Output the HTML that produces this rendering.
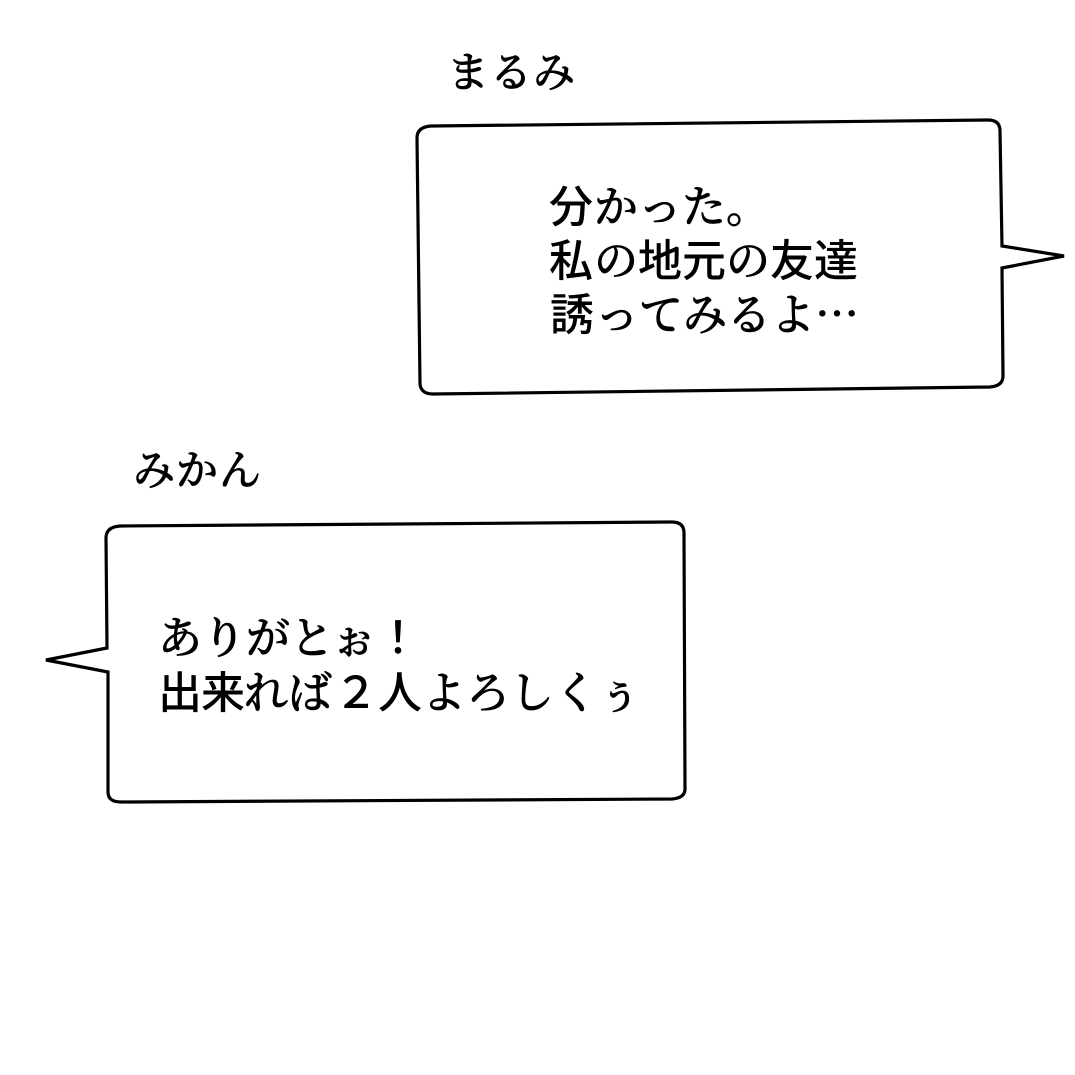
<!DOCTYPE html>
<html lang="ja">
<head>
<meta charset="utf-8">
<style>
html,body{margin:0;padding:0;background:#fff;}
body{width:1075px;height:1075px;overflow:hidden;position:relative;}
svg{position:absolute;left:0;top:0;}
text{font-family:"Noto Serif CJK JP","Noto Serif CJK SC",serif;fill:#000;stroke:#000;stroke-width:.7px;font-weight:500;}
.k{font-family:"Noto Sans CJK JP",sans-serif;stroke:none;font-weight:500;}
</style>
</head>
<body>
<svg width="1075" height="1075" viewBox="0 0 1075 1075" xmlns="http://www.w3.org/2000/svg">
<rect width="1075" height="1075" fill="#fff"/>
<path d="M431 126 L988 120 Q1000 120 1000 131 L1002 246 L1064 256 L1002 268 L1003 376 Q1003 386 990 387 L433 394 Q421 394 420 384 L417 138 Q417 127 431 126 Z" fill="#fff" stroke="#000" stroke-width="3.2" stroke-linejoin="miter"/>
<path d="M120 526 L672 522 Q684 522 684 533 L685 789 Q685 798 672 799 L121 802 Q108 802 108 792 L108 672 L46 660 L107 648 L106 538 Q106 527 120 526 Z" fill="#fff" stroke="#000" stroke-width="3.2" stroke-linejoin="miter"/>
<text x="447 490 533" y="87" font-size="42">まるみ</text>
<text x="133 176 219" y="485" font-size="42">みかん</text>
<text x="549 594 638 682 726" y="222" font-size="44"><tspan class="k">分</tspan>かった。</text>
<text x="549 594 638 682 726 770 814" y="276" font-size="44"><tspan class="k">私</tspan>の<tspan class="k">地元</tspan>の<tspan class="k">友達</tspan></text>
<text x="550 595 639 683 727 771 815" y="330" font-size="44"><tspan class="k">誘</tspan>ってみるよ<tspan class="k">…</tspan></text>
<text x="158 202 246 290 332 376" y="653" font-size="44">ありがとぉ<tspan class="k" font-weight="700">！</tspan></text>
<text x="158 201 244 288 334 378 422 466 510 554 598" y="708" font-size="44"><tspan class="k">出来</tspan>れば<tspan class="k">２人</tspan>よろしくぅ</text>
</svg>
</body>
</html>
